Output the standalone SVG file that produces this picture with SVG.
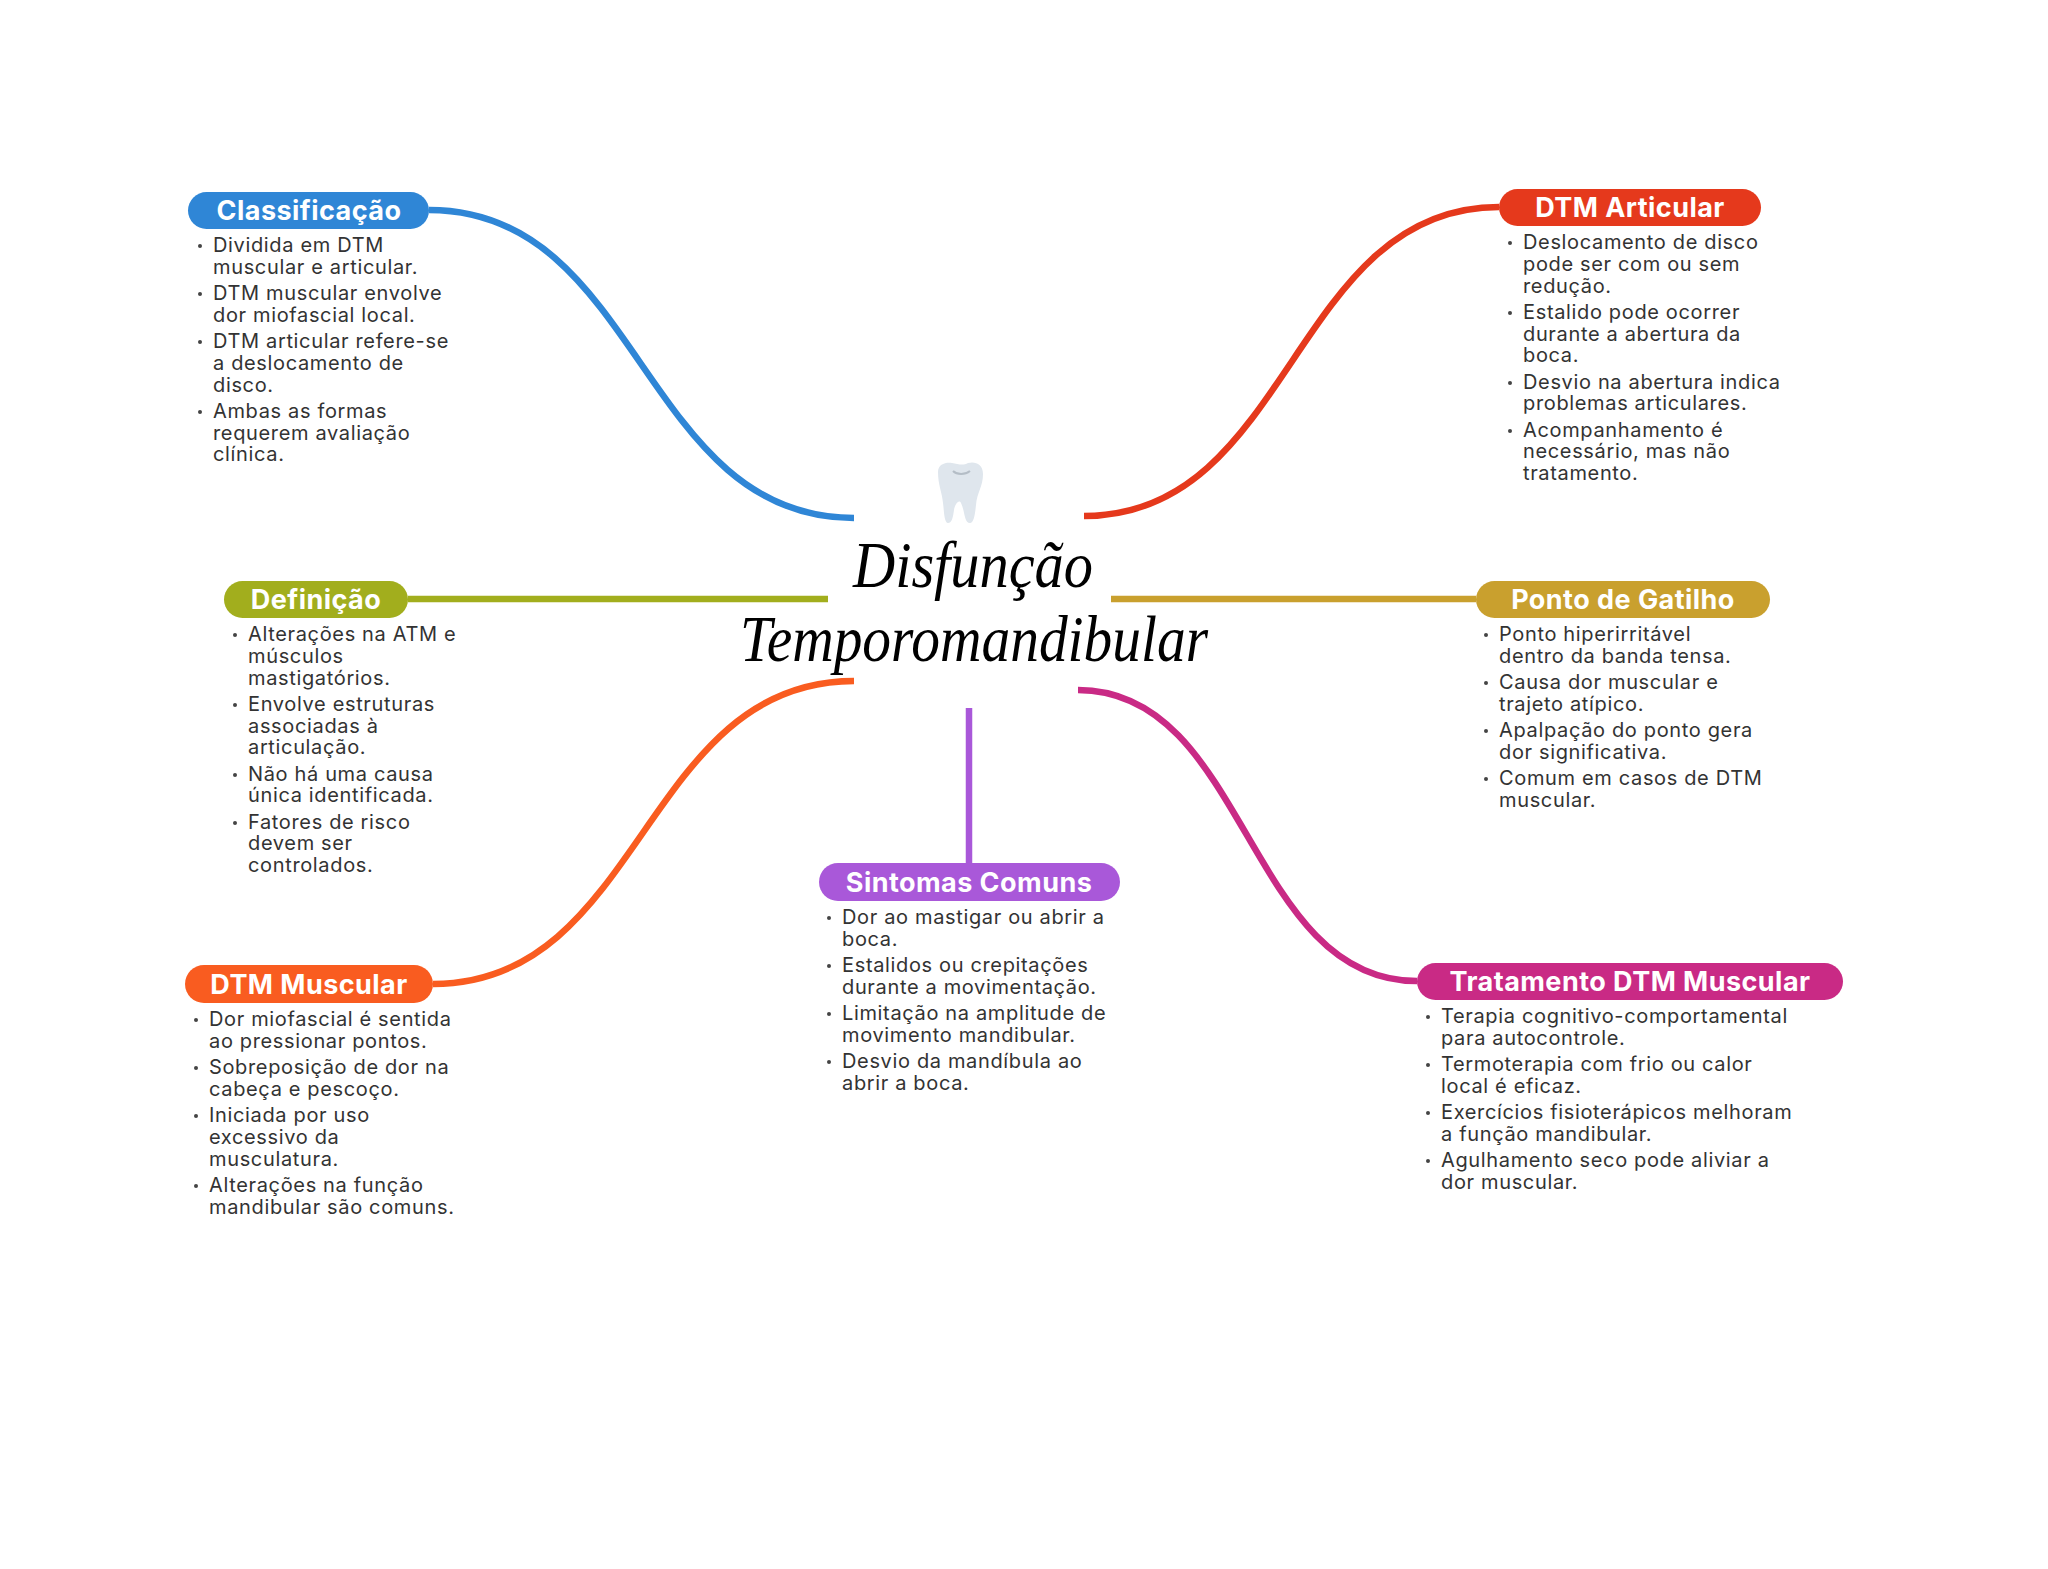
<svg xmlns="http://www.w3.org/2000/svg" width="2048" height="1569" viewBox="0 0 2048 1569">
<style>
.c{fill:none;stroke-width:6.5}
.l{font-family:"Inter","Liberation Sans",sans-serif;font-weight:700;font-size:27px;letter-spacing:.45px;fill:#fff;text-anchor:middle}
.t{font-family:"Inter","Liberation Sans",sans-serif;font-size:20px;letter-spacing:.65px;fill:#333}
.b{fill:#444}
.h{font-family:"Liberation Serif",serif;font-style:italic;font-size:66px;fill:#000}
</style>
<rect width="2048" height="1569" fill="#fff"/>
<g id="connectors">
<path class="c" stroke="#2f86d6" d="M429 210C641 210 641 518 854 518"/>
<path class="c" stroke="#e5391c" d="M1499 207C1292 207 1292 516 1084 516"/>
<path class="c" stroke="#a2ae1d" d="M408 599H828"/>
<path class="c" stroke="#c9a02e" d="M1476 599H1111"/>
<path class="c" stroke="#a958d9" d="M969 708V863"/>
<path class="c" stroke="#f95c20" d="M433 984C643 984 643 681 854 681"/>
<path class="c" stroke="#c92a85" d="M1417 981C1247 981 1247 690 1078 690"/>
</g>
<g id="center">
<path fill="#dfe6ed" d="M938 472C938 464 946 462 952 463C958 464 963 466 968 463C975 461 983 464 983 474C983 487 977 492 976 505C975 514 974 523 970 523C964 523 965 511 961 503C959 499 955 504 954 510C953 517 952 523 948 523C944 523 944 510 943 503C942 492 938 485 938 472Z"/>
<path fill="none" stroke="#b4bdc6" stroke-width="2" d="M953 471C957 475 965 475 970 471"/>
<text class="h" x="853" y="587" textLength="240" lengthAdjust="spacingAndGlyphs">Disfunção</text>
<text class="h" x="740" y="661" textLength="468" lengthAdjust="spacingAndGlyphs">Temporomandibular</text>
</g>
<g id="classificacao">
<rect x="188" y="192" width="241" height="37" rx="18.5" fill="#2f86d6"/>
<text class="l" x="309" y="220">Classificação</text>
<g class="b"><circle cx="200" cy="246" r="2"/><circle cx="200" cy="294" r="2"/><circle cx="200" cy="342" r="2"/><circle cx="200" cy="412" r="2"/></g>
<text class="t"><tspan x="213" y="252">Dividida em DTM</tspan><tspan x="213" y="273.8">muscular e articular.</tspan><tspan x="213" y="300">DTM muscular envolve</tspan><tspan x="213" y="321.8">dor miofascial local.</tspan><tspan x="213" y="348">DTM articular refere-se</tspan><tspan x="213" y="369.8">a deslocamento de</tspan><tspan x="213" y="391.6">disco.</tspan><tspan x="213" y="417.8">Ambas as formas</tspan><tspan x="213" y="439.6">requerem avaliação</tspan><tspan x="213" y="461.4">clínica.</tspan></text>
</g>
<g id="dtm-articular">
<rect x="1499" y="189" width="262" height="37" rx="18.5" fill="#e5391c"/>
<text class="l" x="1630" y="217">DTM Articular</text>
<g class="b"><circle cx="1510" cy="243" r="2"/><circle cx="1510" cy="313" r="2"/><circle cx="1510" cy="383" r="2"/><circle cx="1510" cy="431" r="2"/></g>
<text class="t"><tspan x="1523" y="249">Deslocamento de disco</tspan><tspan x="1523" y="270.8">pode ser com ou sem</tspan><tspan x="1523" y="292.6">redução.</tspan><tspan x="1523" y="318.8">Estalido pode ocorrer</tspan><tspan x="1523" y="340.6">durante a abertura da</tspan><tspan x="1523" y="362.4">boca.</tspan><tspan x="1523" y="388.6">Desvio na abertura indica</tspan><tspan x="1523" y="410.4">problemas articulares.</tspan><tspan x="1523" y="436.6">Acompanhamento é</tspan><tspan x="1523" y="458.4">necessário, mas não</tspan><tspan x="1523" y="480.2">tratamento.</tspan></text>
</g>
<g id="definicao">
<rect x="224" y="581" width="184" height="37" rx="18.5" fill="#a2ae1d"/>
<text class="l" x="316" y="609">Definição</text>
<g class="b"><circle cx="235" cy="635" r="2"/><circle cx="235" cy="705" r="2"/><circle cx="235" cy="775" r="2"/><circle cx="235" cy="823" r="2"/></g>
<text class="t"><tspan x="248" y="641">Alterações na ATM e</tspan><tspan x="248" y="662.8">músculos</tspan><tspan x="248" y="684.6">mastigatórios.</tspan><tspan x="248" y="710.8">Envolve estruturas</tspan><tspan x="248" y="732.6">associadas à</tspan><tspan x="248" y="754.4">articulação.</tspan><tspan x="248" y="780.6">Não há uma causa</tspan><tspan x="248" y="802.4">única identificada.</tspan><tspan x="248" y="828.6">Fatores de risco</tspan><tspan x="248" y="850.4">devem ser</tspan><tspan x="248" y="872.2">controlados.</tspan></text>
</g>
<g id="ponto-gatilho">
<rect x="1476" y="581" width="294" height="37" rx="18.5" fill="#c9a02e"/>
<text class="l" x="1623" y="609">Ponto de Gatilho</text>
<g class="b"><circle cx="1486" cy="635" r="2"/><circle cx="1486" cy="683" r="2"/><circle cx="1486" cy="731" r="2"/><circle cx="1486" cy="779" r="2"/></g>
<text class="t"><tspan x="1499" y="641">Ponto hiperirritável</tspan><tspan x="1499" y="662.8">dentro da banda tensa.</tspan><tspan x="1499" y="689">Causa dor muscular e</tspan><tspan x="1499" y="710.8">trajeto atípico.</tspan><tspan x="1499" y="737">Apalpação do ponto gera</tspan><tspan x="1499" y="758.8">dor significativa.</tspan><tspan x="1499" y="785">Comum em casos de DTM</tspan><tspan x="1499" y="806.8">muscular.</tspan></text>
</g>
<g id="sintomas">
<rect x="819" y="863" width="301" height="38" rx="19" fill="#a958d9"/>
<text class="l" x="969" y="892">Sintomas Comuns</text>
<g class="b"><circle cx="829" cy="918" r="2"/><circle cx="829" cy="966" r="2"/><circle cx="829" cy="1014" r="2"/><circle cx="829" cy="1062" r="2"/></g>
<text class="t"><tspan x="842" y="924">Dor ao mastigar ou abrir a</tspan><tspan x="842" y="945.8">boca.</tspan><tspan x="842" y="972">Estalidos ou crepitações</tspan><tspan x="842" y="993.8">durante a movimentação.</tspan><tspan x="842" y="1020">Limitação na amplitude de</tspan><tspan x="842" y="1041.8">movimento mandibular.</tspan><tspan x="842" y="1068">Desvio da mandíbula ao</tspan><tspan x="842" y="1089.8">abrir a boca.</tspan></text>
</g>
<g id="dtm-muscular">
<rect x="185" y="965" width="248" height="38" rx="19" fill="#f95c20"/>
<text class="l" x="309" y="994">DTM Muscular</text>
<g class="b"><circle cx="196" cy="1020" r="2"/><circle cx="196" cy="1068" r="2"/><circle cx="196" cy="1116" r="2"/><circle cx="196" cy="1186" r="2"/></g>
<text class="t"><tspan x="209" y="1026">Dor miofascial é sentida</tspan><tspan x="209" y="1047.8">ao pressionar pontos.</tspan><tspan x="209" y="1074">Sobreposição de dor na</tspan><tspan x="209" y="1095.8">cabeça e pescoço.</tspan><tspan x="209" y="1122">Iniciada por uso</tspan><tspan x="209" y="1143.8">excessivo da</tspan><tspan x="209" y="1165.6">musculatura.</tspan><tspan x="209" y="1191.8">Alterações na função</tspan><tspan x="209" y="1213.6">mandibular são comuns.</tspan></text>
</g>
<g id="tratamento">
<rect x="1417" y="963" width="426" height="37" rx="18.5" fill="#c92a85"/>
<text class="l" x="1630" y="991">Tratamento DTM Muscular</text>
<g class="b"><circle cx="1428" cy="1017" r="2"/><circle cx="1428" cy="1065" r="2"/><circle cx="1428" cy="1113" r="2"/><circle cx="1428" cy="1161" r="2"/></g>
<text class="t"><tspan x="1441" y="1023">Terapia cognitivo-comportamental</tspan><tspan x="1441" y="1044.8">para autocontrole.</tspan><tspan x="1441" y="1071">Termoterapia com frio ou calor</tspan><tspan x="1441" y="1092.8">local é eficaz.</tspan><tspan x="1441" y="1119">Exercícios fisioterápicos melhoram</tspan><tspan x="1441" y="1140.8">a função mandibular.</tspan><tspan x="1441" y="1167">Agulhamento seco pode aliviar a</tspan><tspan x="1441" y="1188.8">dor muscular.</tspan></text>
</g>
</svg>
